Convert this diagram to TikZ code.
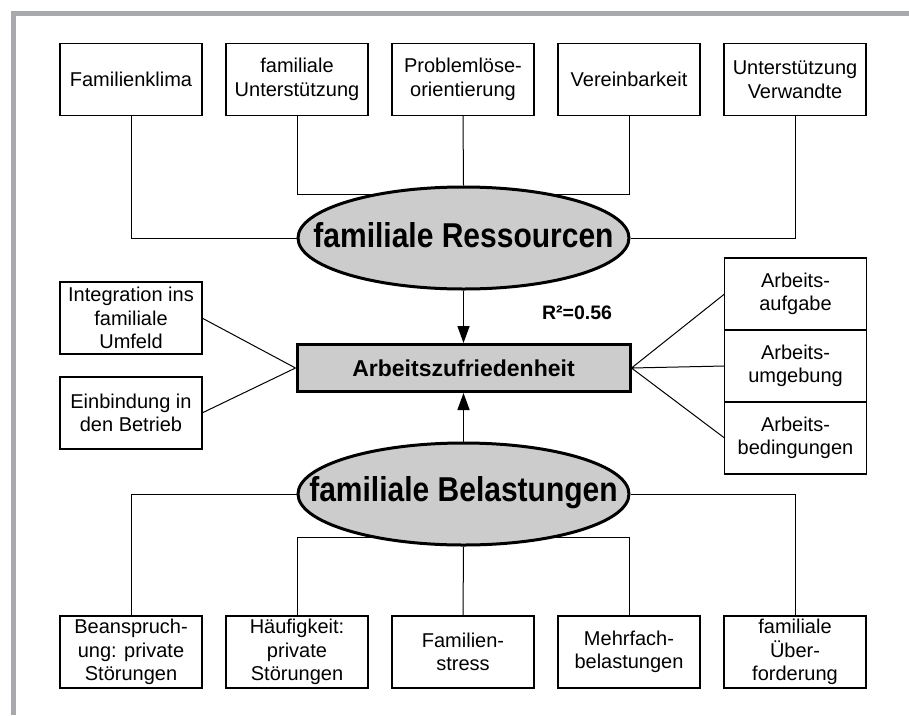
\documentclass[tikz,border=0pt]{standalone}
\usepackage{fontspec}
\setmainfont{Liberation Sans}
\usetikzlibrary{shapes.geometric, positioning, arrows.meta, backgrounds}

\definecolor{framegrey}{RGB}{169,170,173}
\definecolor{fillgrey}{RGB}{204,204,204}

\tikzset{
	box/.style={draw, line width=1.2pt, minimum width=142pt, minimum height=72pt, inner sep=0pt, outer sep=0pt, align=center, font=\fontsize{20}{23.5}\selectfont},
	factor/.style={ellipse, draw, fill=fillgrey, line width=3pt, minimum width=331pt, minimum height=102pt, inner sep=0pt},
	factortext/.style={anchor=base, yscale=1.15, transform shape, font=\fontsize{30}{34}\selectfont\bfseries},
	target/.style={draw, fill=fillgrey, line width=3pt, minimum width=333pt, minimum height=47pt, inner sep=0pt, font=\fontsize{23}{26}\selectfont\bfseries},
	link/.style={line width=1pt},
	effect/.style={-{Triangle[length=17pt,width=12pt]}, line width=1.5pt}
}

\begin{document}
\begin{tikzpicture}
	\useasboundingbox (0,0) rectangle (909pt,-715pt);
	\draw[framegrey, line width=5pt] (13.5pt,-715pt) -- (13.5pt,-13.5pt) -- (909pt,-13.5pt);

	\node[box] (r1) at (131pt,-79.5pt) {Familienklima};
	\node[box, right=24pt of r1] (r2) {familiale\\Unterstützung};
	\node[box, right=24pt of r2] (r3) {Problemlöse-\\orientierung};
	\node[box, right=24pt of r3] (r4) {Vereinbarkeit};
	\node[box, right=24pt of r4] (r5) {Unterstützung\\Verwandte};

	\node[factor] (res) at (463.5pt,-238pt) {};
	\node[factortext] (restext) at ([yshift=-9pt]res.center) {familiale Ressourcen};

	\node[target] (az) at (463.5pt,-368pt) {Arbeitszufriedenheit};
	\node[font=\fontsize{19.5}{24}\selectfont\bfseries] (rsq) at (577pt,-313pt) {R²=0.56};

	\node[box] (l1) at (131pt,-318pt) {Integration ins\\familiale\\Umfeld};
	\node[box, below=23pt of l1] (l2) {Einbindung in\\den Betrieb};

	\node[box] (a1) at (795.5pt,-294pt) {Arbeits-\\aufgabe};
	\node[box, below=0pt of a1] (a2) {Arbeits-\\umgebung};
	\node[box, below=0pt of a2] (a3) {Arbeits-\\bedingungen};

	\node[factor] (bel) at (463.5pt,-494pt) {};
	\node[factortext] (beltext) at ([yshift=-7pt]bel.center) {familiale Belastungen};

	\node[box] (b1) at (131pt,-652pt) {Beanspruch-\\ung: private\\Störungen};
	\node[box, right=24pt of b1] (b2) {Häufigkeit:\\private\\Störungen};
	\node[box, right=24pt of b2] (b3) {Familien-\\stress};
	\node[box, right=24pt of b3] (b4) {Mehrfach-\\belastungen};
	\node[box, right=24pt of b4] (b5) {familiale\\Über-\\forderung};

	\begin{scope}[on background layer]
		\draw[link] (r1.south) |- (res.west);
		\draw[link] (r2.south) |- ([yshift=44pt]res.center);
		\draw[link] (r3.south) -- (res.north);
		\draw[link] (r4.south) |- ([yshift=44pt]res.center);
		\draw[link] (r5.south) |- (res.east);

		\draw[link] (b1.north) |- (bel.west);
		\draw[link] (b2.north) |- ([yshift=-43pt]bel.center);
		\draw[link] (b3.north) -- (bel.south);
		\draw[link] (b4.north) |- ([yshift=-43pt]bel.center);
		\draw[link] (b5.north) |- (bel.east);
	\end{scope}

	\draw[link]
		(l1.east) -- (az.west)
		(l2.east) -- (az.west)
		(az.east) -- (a1.west)
		(az.east) -- (a2.west)
		(az.east) -- (a3.west);

	\draw[effect] (res.south) -- (az.north);
	\draw[effect] (bel.north) -- (az.south);
\end{tikzpicture}
\end{document}
